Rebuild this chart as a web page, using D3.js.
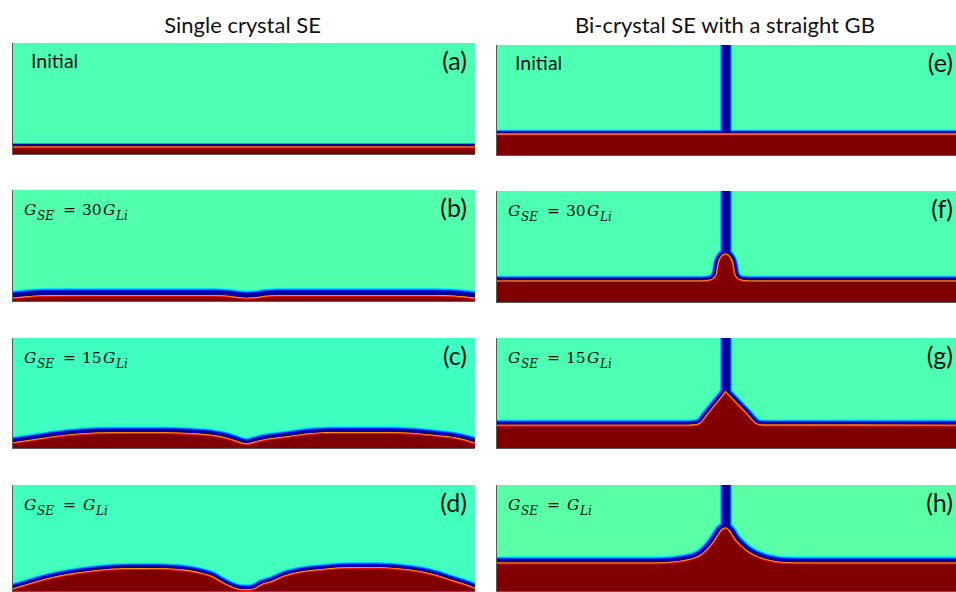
<!DOCTYPE html>
<html>
<head>
<meta charset="utf-8">
<script src="https://cdn.jsdelivr.net/npm/d3@7"></script>
<style>
  html, body { margin: 0; padding: 0; background: #ffffff; }
  svg { display: block; }
</style>
</head>
<body>
<svg id="fig" width="956" height="592"></svg>
<script>
// ---- data -------------------------------------------------------------
const columnTitles = ["Single crystal SE", "Bi-crystal SE with a straight GB"];
const panelTags = ["(a)", "(b)", "(c)", "(d)", "(e)", "(f)", "(g)", "(h)"];
// shear modulus ratio G_SE / G_Li for each row (null = initial state)
const modulusRatio = [null, 30, 15, 1];

// simulation box: lateral grid units; grain boundary position in the bi-crystal
const boxWidth = 460;
const grainBoundaryX = 230;

// Li / SE interface height profiles, [x, height] in grid units
const profileA = [[0, 8.5], [460, 8.5]];
const profileB = [[0, 4.3], [12, 5.5], [30, 6.8], [60, 7], [200, 7], [215, 6.3], [225, 5], [233, 4.3],
                  [243, 5], [252, 6.3], [265, 7], [420, 7], [438, 6.5], [450, 5.5], [460, 4.3]];
const profileC = [[0, 6.6], [20, 9.5], [43, 13], [70, 15.8], [100, 16.8], [150, 16.8], [176, 16],
                  [200, 14], [213, 11.5], [221, 9], [228, 6.5], [233, 5.6], [238, 6.5], [245, 8.5],
                  [255, 10.5], [271, 12.5], [293, 15.5], [320, 17], [370, 17], [400, 16], [420, 14],
                  [438, 12], [450, 9.5], [460, 6.6]];
const profileD = [[0, 3.5], [12, 7], [25, 11], [45, 16], [65, 19.5], [85, 22], [110, 23.8], [140, 24],
                  [165, 23], [188, 19.3], [200, 15.5], [208, 10.7], [215, 7], [221, 4.5], [227, 3],
                  [236, 2.8], [242, 4.5], [247, 7.5], [258, 11], [271, 16.7], [290, 21], [305, 22.7],
                  [330, 24.8], [360, 25], [385, 23.5], [405, 21], [422, 17], [438, 11.7], [450, 8],
                  [460, 4.3]];
const profileE = [[0, 22.4], [460, 22.4]];
const profileF = [[0, 22.6], [205, 22.6], [214, 23.5], [218, 26], [220, 30], [221, 36], [222, 41],
                  [224, 45.5], [226.5, 48.5], [229.5, 49.5], [232.5, 48.5], [235, 45.5], [237, 41],
                  [238, 36], [239, 30], [241, 26], [245, 23.5], [254, 22.6], [460, 22.6]];
const profileG = [[0, 24.3], [192, 24.3], [199, 24.8], [204, 26.5], [210, 33.8], [216, 41.3],
                  [222, 48.7], [226, 53.5], [228, 56.5], [229.5, 58], [231, 56.6], [234, 53.5],
                  [240, 47.3], [246, 41], [252, 34.8], [257, 29], [261, 25.5], [267, 24.4], [460, 24.3]];
const profileH = [[0, 29.5], [160, 29.5], [175, 30.2], [190.7, 32.5], [200, 35], [204, 37], [210, 42],
                  [214, 46.5], [217.5, 51], [221, 56.5], [224, 61], [226.5, 63.5], [229.5, 64.5],
                  [232.5, 63], [235, 60], [238, 55], [241, 51], [245, 47], [250.7, 42], [258, 37.5],
                  [267.3, 33.7], [274, 32], [284, 30.2], [300, 29.5], [460, 29.5]];

// order-parameter level in the bulk SE for each panel
const seLevel = [0.45, 0.455, 0.437, 0.44, 0.45, 0.45, 0.45, 0.462];

// ---- colour map (jet) -------------------------------------------------
function jet(t) {
  const c = v => Math.max(0, Math.min(1, v));
  return d3.rgb(255 * c(1.5 - Math.abs(4 * t - 3)),
                255 * c(1.5 - Math.abs(4 * t - 2)),
                255 * c(1.5 - Math.abs(4 * t - 1))).toString();
}
const colour = d3.scaleSequential(jet).domain([0, 1]);

// ---- layout -----------------------------------------------------------
const colX = [[12, 475], [496, 956]];
const rowY = [[[43, 155], [190, 302], [338, 449], [485, 592]],
              [[45, 156], [191, 303], [338, 449], [485, 592]]];
// depletion band (full width, dark core) per panel, px
const bandStyle = [
  { w: 3.4, core: 1.6 }, { w: 7.5, core: 3 }, { w: 6, core: 2 }, { w: 5.5, core: 1.5 },
  { w: 4, core: 1.2 }, { w: 5, core: 1.5 }, { w: 5.5, core: 1.5 }, { w: 6.5, core: 2 }
];
const gbStyle = { w: 6.5, core: 2.6 };
const sansFont = "Lato, 'Open Sans', sans-serif";
const mathFont = "'DejaVu Serif', serif";

const profiles = [profileA, profileB, profileC, profileD, profileE, profileF, profileG, profileH];

const svg = d3.select("#fig");

// interface height at a given lateral position (linear between samples)
function heightAt(profile, xq) {
  const i = d3.bisector(d => d[0]).left(profile, xq);
  if (i <= 0) return profile[0][1];
  if (i >= profile.length) return profile[profile.length - 1][1];
  const a = profile[i - 1], b = profile[i];
  return d3.interpolateNumber(a[1], b[1])((xq - a[0]) / (b[0] - a[0]));
}

function renderField(i, width, height) {
  const canvas = document.createElement("canvas");
  canvas.width = width; canvas.height = height;
  const ctx = canvas.getContext("2d");
  const profile = profiles[i];
  const bicrystal = i >= 4;
  const se = seLevel[i];
  const band = bandStyle[i];

  const x = d3.scaleLinear().domain([0, boxWidth]).range([0, width]);
  const y = d3.scaleLinear().domain([0, height]).range([height, 0]);
  const line = d3.line().x(d => x(d[0])).y(d => y(d[1])).curve(d3.curveMonotoneX).context(ctx);

  const peak = heightAt(profile, grainBoundaryX);

  // bulk SE
  ctx.fillStyle = colour(se);
  ctx.fillRect(0, 0, width, height);

  ctx.lineJoin = "round";
  ctx.lineCap = "round";

  // depletion band along the interface (and the grain boundary), drawn from the
  // outer level inward so overlapping bands keep the lower value
  const steps = 40;
  for (let k = steps; k >= 0; k--) {
    const f = k / steps;
    const v = k === 0 ? 0.02 : se * f;
    ctx.strokeStyle = colour(v);
    ctx.lineWidth = 2 * (band.core + (band.w - band.core) * f);
    ctx.beginPath(); line(profile); ctx.stroke();
    if (bicrystal) {
      ctx.lineWidth = 2 * (gbStyle.core + (gbStyle.w - gbStyle.core) * f);
      ctx.beginPath();
      ctx.moveTo(x(grainBoundaryX), -20);
      ctx.lineTo(x(grainBoundaryX), y(peak));
      ctx.stroke();
    }
  }

  // Li metal
  ctx.beginPath();
  line(profile);
  ctx.lineTo(width + 20, height + 20);
  ctx.lineTo(-20, height + 20);
  ctx.closePath();
  ctx.fillStyle = colour(1);
  ctx.fill();

  // diffuse edge on the Li side
  ctx.save();
  ctx.clip();
  [[1.7, 0.86], [0.8, 0.7]].forEach(([d, v]) => {
    ctx.strokeStyle = colour(v);
    ctx.lineWidth = 2 * d;
    ctx.beginPath(); line(profile); ctx.stroke();
  });
  ctx.restore();

  return canvas.toDataURL("image/png");
}

// column titles
columnTitles.forEach((t, c) => {
  svg.append("text")
    .attr("x", (colX[c][0] + colX[c][1]) / 2 - 1)
    .attr("y", 33)
    .attr("text-anchor", "middle")
    .attr("font-family", sansFont)
    .attr("font-size", 22)
    .attr("fill", "#111")
    .text(t);
});

panelTags.forEach((tag, i) => {
  const c = i < 4 ? 0 : 1;
  const r = i % 4;
  const [x0, x1] = colX[c];
  const [y0, y1] = rowY[c][r];
  const w = x1 - x0, h = y1 - y0;

  svg.append("image")
    .attr("x", x0).attr("y", y0)
    .attr("width", w).attr("height", h)
    .attr("preserveAspectRatio", "none")
    .attr("href", renderField(i, w, h));

  // frame edges
  svg.append("line").attr("x1", x0 + 0.5).attr("x2", x0 + 0.5).attr("y1", y0).attr("y2", y1)
    .attr("stroke", "#5a5a5a").attr("stroke-width", 1);
  svg.append("line").attr("x1", x0).attr("x2", x1).attr("y1", y1 - 0.5).attr("y2", y1 - 0.5)
    .attr("stroke", "#5a5a5a").attr("stroke-width", 1);

  // panel tag
  svg.append("text")
    .attr("x", x1 - (c === 0 ? 8 : 3))
    .attr("y", y0 + 27)
    .attr("text-anchor", "end")
    .attr("font-family", sansFont)
    .attr("font-size", 25)
    .attr("fill", "#111")
    .text(tag);

  // condition label
  const ratio = modulusRatio[r];
  const lx = x0 + 13;
  if (ratio === null) {
    svg.append("text")
      .attr("x", x0 + 19)
      .attr("y", y0 + 25)
      .attr("font-family", sansFont)
      .attr("font-size", 19.5)
      .attr("fill", "#111")
      .text("Initial");
  } else {
    const by = y0 + 25;
    const g = svg.append("g").attr("font-family", mathFont).attr("fill", "#111");
    const main = (x, s, italic) => g.append("text").attr("x", x).attr("y", by)
      .attr("font-size", 15.5).attr("font-style", italic ? "italic" : "normal").text(s);
    const sub = (x, s) => g.append("text").attr("x", x).attr("y", by + 4.5)
      .attr("font-size", 12).attr("font-style", "italic").text(s);
    main(lx - 1, "G", true);
    sub(lx + 12, "SE");
    main(lx + 38, "=", false);
    if (ratio === 1) {
      main(lx + 58, "G", true);
      sub(lx + 71, "Li");
    } else {
      main(lx + 57, String(ratio), false);
      main(lx + 78, "G", true);
      sub(lx + 91, "Li");
    }
  }
});
</script>
</body>
</html>
